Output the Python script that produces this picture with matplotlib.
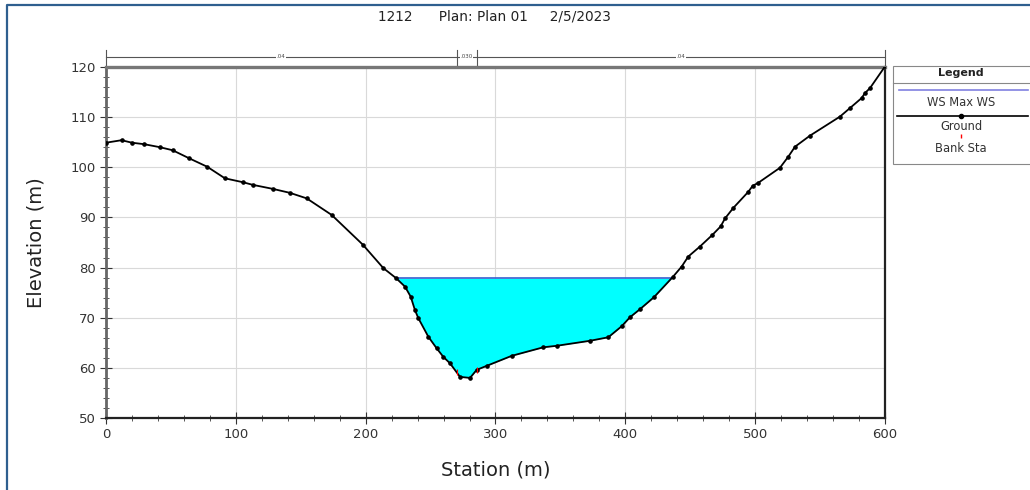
import numpy as np
import matplotlib
matplotlib.use("Agg")
import matplotlib.pyplot as plt
from matplotlib.ticker import MultipleLocator
from matplotlib.patches import Rectangle
from matplotlib.lines import Line2D

# ---- data ----
station = [0, 12, 20, 29.5, 41.6, 51.3, 64, 78, 91.6, 105.8, 113, 128.4, 141.7,
           154.6, 173.8, 197.7, 213.6, 223.4, 230.3, 234.7, 238, 240.6, 248.3,
           254.7, 259.8, 265, 272.7, 280.4, 285.5, 293.2, 312.5, 336.8, 347.1,
           372.8, 386.9, 397.2, 403.6, 411.3, 422.1, 436.5, 443.4, 448.5, 457.5,
           467, 473.4, 476.8, 483.2, 494.7, 498.1, 502.4, 519.1, 525.5, 530.7,
           542.2, 565.3, 573, 582, 584.6, 588.5, 600]
elevation = [104.9, 105.4, 104.9, 104.6, 104.0, 103.4, 101.8, 100.1, 97.8, 97.0,
             96.5, 95.7, 94.9, 93.8, 90.5, 84.6, 79.9, 77.9, 76.2, 74.2, 71.5,
             69.9, 66.2, 63.9, 62.2, 60.9, 58.2, 58.0, 59.6, 60.4, 62.4, 64.1,
             64.4, 65.4, 66.1, 68.3, 70.1, 71.7, 74.1, 78.1, 80.2, 82.2, 84.2,
             86.5, 88.2, 89.8, 91.9, 95.1, 96.3, 96.9, 99.9, 102.1, 104.1, 106.3,
             110.1, 111.8, 113.8, 114.8, 115.8, 120.1]
ws_max = 77.9
bank_sta = [270, 286]
n_values = [".04", ".030", ".04"]
title = "1212      Plan: Plan 01     2/5/2023"

st = np.array(station)
el = np.array(elevation)

fig = plt.figure(figsize=(10.3, 4.9), dpi=100)
fig.patch.set_facecolor("white")
ax = fig.add_axes([0.1029, 0.1469, 0.7563, 0.7164])

# water fill
in_ch = (st > 200) & (st < 450)
ax.fill_between(st, el, ws_max, where=(el <= ws_max) & in_ch, interpolate=True,
                color="#00FFFF", zorder=2, linewidth=0)
# water surface line extent
idx = np.where(in_ch)[0]
sub_s, sub_e = st[idx], el[idx]
k = np.argmin(sub_e)
left_x = np.interp(ws_max, sub_e[:k + 1][::-1], sub_s[:k + 1][::-1])
right_x = np.interp(ws_max, sub_e[k:], sub_s[k:])
ax.plot([left_x, right_x], [ws_max, ws_max], color="#3a5fcd", lw=1.2, zorder=3)

# ground
ax.plot(st, el, color="black", lw=1.3, marker="o", ms=2.3, zorder=4)

# bank stations
bank_el = np.interp(bank_sta, st, el)
ax.plot(bank_sta, bank_el, ls="none", marker="|", color="red", ms=4, mew=0.8, zorder=5)

ax.set_xlim(0, 600)
ax.set_ylim(50, 120)
ax.xaxis.set_major_locator(MultipleLocator(100))
ax.xaxis.set_minor_locator(MultipleLocator(20))
ax.yaxis.set_major_locator(MultipleLocator(10))
ax.yaxis.set_minor_locator(MultipleLocator(2))
ax.tick_params(which="major", direction="inout", length=8, width=0.8, labelsize=9.5,
               colors="#333333", labelcolor="#333333")
ax.tick_params(which="minor", direction="inout", length=5, width=0.7, colors="#555555")
ax.grid(True, which="major", color="#d9d9d9", lw=0.8, zorder=0)
ax.set_axisbelow(True)
for side in ["left", "bottom", "right"]:
    ax.spines[side].set_linewidth(1.6)
    ax.spines[side].set_color("#222222")
ax.spines["left"].set_color("#666666")
ax.spines["left"].set_linewidth(2.0)
ax.spines["top"].set_linewidth(2.4)
ax.spines["top"].set_color("#777777")

ax.set_xlabel("Station (m)", fontsize=14, color="#222222", labelpad=14)
ax.set_ylabel("Elevation (m)", fontsize=14, color="#222222", labelpad=18)
fig.text(0.48, 0.967, title, ha="center", va="center", fontsize=9.8, color="#222222")

# Manning's n annotation line above axes
ann_y = 122.0
ax.plot([0, 600], [ann_y, ann_y], color="#555555", lw=0.8, clip_on=False)
for xv in [0, bank_sta[0], bank_sta[1], 600]:
    ax.plot([xv, xv], [120.2, 123.3], color="#555555", lw=0.8, clip_on=False)
segs = [(0, bank_sta[0]), (bank_sta[0], bank_sta[1]), (bank_sta[1], 600)]
for (a, b), lab in zip(segs, n_values):
    ax.text((a + b) / 2, ann_y, lab, fontsize=4, ha="center", va="center",
            color="#444444", clip_on=False,
            bbox=dict(facecolor="white", edgecolor="none", pad=0.3))

# legend box (custom, at right, cut by figure edge)
lx0, ly0, lw_, lh_ = 893 / 1030, 1 - 164 / 490, 150 / 1030, 98 / 490
fig.patches.append(Rectangle((lx0, ly0), lw_, lh_, transform=fig.transFigure,
                             facecolor="white", edgecolor="#888888", lw=0.8))
fig.add_artist(Line2D([lx0, lx0 + lw_], [1 - 83 / 490] * 2, transform=fig.transFigure,
                      color="#888888", lw=0.8))
cx = 961 / 1030
fig.text(cx, 1 - 73 / 490, "Legend", ha="center", va="center", fontsize=8,
         fontweight="bold", color="#222222")
fig.add_artist(Line2D([899 / 1030, 1028 / 1030], [1 - 90 / 490] * 2, transform=fig.transFigure,
                      color="#8080e0", lw=1.2))
fig.text(cx, 1 - 102 / 490, "WS Max WS", ha="center", va="center", fontsize=8.3, color="#333333")
fig.add_artist(Line2D([897 / 1030, 1028 / 1030], [1 - 116 / 490] * 2, transform=fig.transFigure,
                      color="black", lw=1.2))
fig.add_artist(Line2D([cx], [1 - 116 / 490], transform=fig.transFigure, marker="o",
                      ms=3, color="black"))
fig.text(cx, 1 - 126 / 490, "Ground", ha="center", va="center", fontsize=8.3, color="#333333")
fig.add_artist(Line2D([cx], [1 - 136 / 490], transform=fig.transFigure, marker="|",
                      ms=3, color="red", ls="none"))
fig.text(cx, 1 - 148 / 490, "Bank Sta", ha="center", va="center", fontsize=8.3, color="#333333")

# outer blue frame
fig.add_artist(Line2D([7 / 1030, 7 / 1030, 1.0], [0, 1 - 5 / 490, 1 - 5 / 490],
                      transform=fig.transFigure, color="#2f5f8f", lw=1.6))

fig.savefig("out.png", dpi=100)
